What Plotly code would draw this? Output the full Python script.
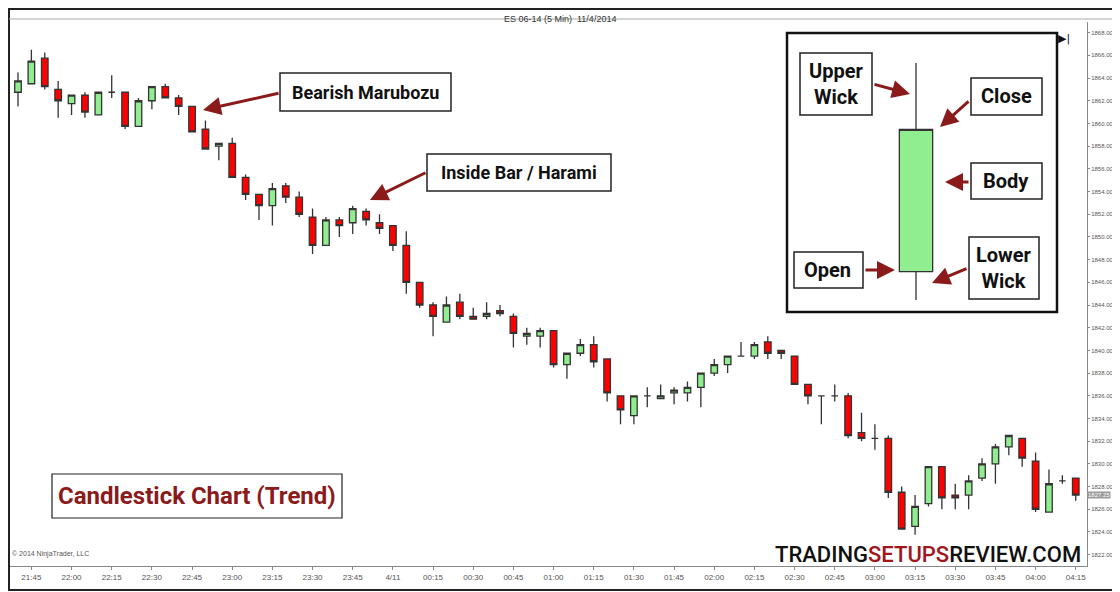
import plotly.graph_objects as go

# ---- data (ES 06-14, 5 min bars) ----
times = ["21:40","21:45","21:50","21:55","22:00","22:05","22:10","22:15","22:20","22:25","22:30","22:35","22:40","22:45","22:50","22:55",
         "23:00","23:05","23:10","23:15","23:20","23:25","23:30","23:35","23:40","23:45","23:50","23:55","00:00","00:05","00:10","00:15",
         "00:20","00:25","00:30","00:35","00:40","00:45","00:50","00:55","01:00","01:05","01:10","01:15","01:20","01:25","01:30","01:35",
         "01:40","01:45","01:50","01:55","02:00","02:05","02:10","02:15","02:20","02:25","02:30","02:35","02:40","02:45","02:50","02:55",
         "03:00","03:05","03:10","03:15","03:20","03:25","03:30","03:35","03:40","03:45","03:50","03:55","04:00","04:05","04:10","04:15"]
opens = [1862.75,1863.5,1865.75,1863,1861.75,1862.5,1860.75,1862.75,1862.75,1859.75,1862,1863.25,1862.25,1861.5,1859.5,1858,
         1858.25,1855.25,1853.75,1852.75,1854.5,1853.5,1851.75,1849.25,1851.5,1851.25,1852.25,1851.25,1851,1849.25,1846,1844,
         1842.5,1844.25,1843,1843,1843.5,1843,1841.25,1841.25,1841.75,1838.75,1839.75,1840.5,1839.25,1836,1834.25,1836,
         1835.75,1836.25,1836.25,1836.75,1838,1838.75,1839.5,1839.5,1840.75,1840,1839.5,1837,1836,1836,1836,1832.75,
         1832.25,1832.25,1827.5,1824.5,1826.5,1829.75,1827.25,1827.25,1828.75,1830,1831.5,1832.25,1830.25,1825.75,1828.5,1828.75]
highs = [1864.5,1866.5,1866.25,1863.75,1862.5,1862.75,1862.75,1864.25,1862.75,1862.25,1863.25,1863.5,1862.5,1861.5,1860.25,1858.25,
         1858.75,1855.5,1853.75,1854.75,1854.75,1854,1852.5,1851.75,1851.75,1852.75,1852.5,1852,1851,1850.5,1846,1844.25,
         1844.75,1845,1843.75,1844.25,1844,1843.25,1842,1842,1841.75,1839.75,1841,1841.25,1839.25,1836,1836,1836.75,
         1837,1836.75,1837.25,1838,1839.25,1839.5,1840.75,1840.75,1841.25,1840,1839.5,1837,1836,1837,1836.25,1834.5,
         1833.5,1832.5,1828,1827.25,1829.75,1829.75,1828.25,1829,1830.5,1831.75,1832.5,1832.25,1831,1829.5,1829,1828.75]
lows = [1861.5,1863.5,1863,1860.5,1860.75,1860.5,1860.75,1862.25,1859.5,1859.75,1861.25,1862.25,1860.75,1859.25,1857.75,1856.75,
        1855.25,1853.25,1851.5,1851,1853,1851.75,1848.5,1849.25,1850,1850.25,1851,1850.25,1848.75,1845,1843.75,1841.25,
        1842.5,1842.75,1842.75,1842.75,1843,1840.25,1840.5,1840.25,1838.5,1837.5,1839.5,1838.5,1835.5,1833.5,1833.5,1835,
        1835.75,1835.25,1835.5,1835,1837.75,1838,1839.5,1839.25,1839.25,1839.25,1837,1835.25,1833.5,1835.5,1832.25,1832,
        1831.25,1827,1824.25,1823.75,1826.25,1826,1826,1826,1828.5,1828.25,1830.75,1829.75,1825.75,1825.75,1828.25,1826.75]
closes = [1863.75,1865.5,1863.25,1862,1862.5,1861,1862.75,1862.75,1859.75,1862,1863.25,1862.25,1861.5,1859.25,1857.75,1858.25,
          1855.25,1853.75,1852.75,1854.25,1853.5,1852,1849.25,1851.5,1851,1852.5,1851.5,1850.75,1849.25,1846,1844,1843,
          1844,1843,1842.75,1843.25,1843.25,1841.5,1841.5,1841.75,1838.75,1839.75,1840.5,1839,1836.25,1834.75,1836,1836,
          1836,1836.5,1836.75,1838,1838.75,1839.5,1839.5,1840.5,1839.75,1839.75,1837,1836,1836,1836,1832.5,1832.25,
          1832.25,1827.5,1824.25,1826.25,1829.75,1827,1827,1828.5,1830,1831.5,1832.5,1830.5,1826,1828.25,1828.5,1827.25]
tick_labels = ["21:45","22:00","22:15","22:30","22:45","23:00","23:15","23:30","23:45","4/11","00:15","00:30","00:45","01:00",
               "01:15","01:30","01:45","02:00","02:15","02:30","02:45","03:00","03:15","03:30","03:45","04:00","04:15"]
y_ticks = list(range(1822, 1869, 2))
last_price = 1827.25

# illustration candle in the legend box
inset_open = [1.2]
inset_high = [10.0]
inset_low = [0.0]
inset_close = [7.2]

# page body has an 8px margin: the figure is sized/placed to compensate
O = 8
W, H = 1120 - O, 592 - O
L, R, T, B = 0, 1087 - O, 22 - O, 566 - O
def px(x): return (x - O - L) / (R - L)
def py(y): return (B - (y - O)) / (B - T)

xs = list(range(len(times)))
tickvals = [xs[times.index(t if t != "4/11" else "00:00")] for t in tick_labels]

fig = go.Figure()
fig.add_trace(go.Candlestick(
    x=xs, open=opens, high=highs, low=lows, close=closes,
    increasing=dict(fillcolor="#90EE90", line=dict(color="#333333", width=1.3)),
    decreasing=dict(fillcolor="#FF0000", line=dict(color="#333333", width=1.3)),
    whiskerwidth=0, showlegend=False, hoverinfo="skip"))
fig.add_trace(go.Candlestick(
    x=[0], open=inset_open, high=inset_high, low=inset_low, close=inset_close,
    xaxis="x2", yaxis="y2",
    increasing=dict(fillcolor="#90EE90", line=dict(color="#333333", width=1.3)),
    decreasing=dict(fillcolor="#FF0000", line=dict(color="#333333", width=1.3)),
    whiskerwidth=0, showlegend=False, hoverinfo="skip"))

narrow = "Roboto, sans-serif"
fig.update_layout(
    width=W, height=H, margin=dict(l=L, r=W - R, t=T, b=H - B, autoexpand=False),
    paper_bgcolor="white", plot_bgcolor="white",
    xaxis=dict(range=[-0.746, 79.84], tickvals=tickvals, ticktext=tick_labels, showgrid=False, zeroline=False,
               automargin=False, rangeslider=dict(visible=False), showline=True, linecolor="#888", linewidth=1,
               ticks="outside", ticklen=3, tickcolor="#888", tickfont=dict(size=8, color="#555", family="Arial")),
    yaxis=dict(range=[1821.0, 1868.94], side="right", tickvals=y_ticks, ticktext=[f"{v:.2f}" for v in y_ticks],
               automargin=False, showgrid=False, zeroline=False, showline=True, linecolor="#888", linewidth=1,
               ticks="outside", ticklen=2, tickcolor="#888", tickfont=dict(size=6, color="#555", family="Arial")),
    xaxis2=dict(domain=[px(848), px(984)], range=[-1, 1], visible=False, anchor="y2", rangeslider=dict(visible=False)),
    yaxis2=dict(domain=[py(300), py(63)], range=[0, 10], visible=False, anchor="x2"),
)

shapes = []
shapes.append(dict(type="rect", xref="paper", yref="paper", x0=px(9), x1=px(1118), y0=py(590), y1=py(9),
                   line=dict(color="#222", width=2), fillcolor="rgba(0,0,0,0)", layer="above"))
shapes.append(dict(type="line", xref="paper", yref="paper", x0=px(9), x1=px(1118), y0=py(19), y1=py(19),
                   line=dict(color="#aaa", width=1)))
shapes.append(dict(type="rect", xref="paper", yref="paper", x0=px(787), x1=px(1057), y0=py(312), y1=py(33),
                   line=dict(color="#111", width=2.5), fillcolor="white", layer="below"))

def box(x0, y0, x1, y1, w=1.5):
    shapes.append(dict(type="rect", xref="paper", yref="paper", x0=px(x0), x1=px(x1), y0=py(y1), y1=py(y0),
                       line=dict(color="#222", width=w), fillcolor="white", layer="above"))

annots = []
def label(text, cx, cy, size=20, color="#111"):
    annots.append(dict(text=text, xref="paper", yref="paper", x=px(cx), y=py(cy), showarrow=False,
                       font=dict(family=narrow, size=size, color=color, weight="bold"), xanchor="center", yanchor="middle"))

def arrow(x0, y0, x1, y1):
    annots.append(dict(text="", xref="paper", yref="paper", axref="pixel", ayref="pixel",
                       x=px(x1), y=py(y1), ax=x0 - x1, ay=y0 - y1, showarrow=True,
                       arrowhead=2, arrowsize=1.2, arrowwidth=3, arrowcolor="#8B1A1A"))

box(280, 73, 451, 111); label("Bearish Marubozu", 365, 92, size=18)
arrow(280, 93, 203, 110)
box(427, 154, 611, 191); label("Inside Bar / Harami", 519, 172, size=18)
arrow(427, 172, 370, 200)

box(800, 53, 872, 115); label("Upper<br>Wick", 836, 84)
arrow(873, 84, 910, 94)
box(971, 78, 1042, 115); label("Close", 1006, 96)
arrow(970, 100, 940, 127)
box(971, 163, 1042, 199); label("Body", 1006, 181)
arrow(970, 182, 945, 182)
box(794, 252, 863, 288); label("Open", 828, 270)
arrow(864, 270, 895, 270)
box(969, 237, 1039, 299); label("Lower<br>Wick", 1004, 268)
arrow(968, 268, 932, 283)

box(52, 474, 342, 518, w=1.2)
label("Candlestick Chart (Trend)", 197, 496, size=24, color="#8B1A1A")

annots.append(dict(xref="paper", yref="paper", x=px(1083), y=py(554), xanchor="right", yanchor="middle", showarrow=False,
                   text="TRADING<span style='color:#A0161B'>SETUPS</span>REVIEW.COM",
                   font=dict(family=narrow, size=22, color="#111", weight=500)))
annots.append(dict(xref="paper", yref="paper", x=px(560), y=py(12), showarrow=False,
                   text="ES 06-14 (5 Min)  11/4/2014", font=dict(family="Arial", size=9, color="#333")))
annots.append(dict(xref="paper", yref="paper", x=px(10), y=py(560), xanchor="left", showarrow=False,
                   text="© 2014 NinjaTrader, LLC", font=dict(family="Arial", size=7, color="#555")))
annots.append(dict(xref="paper", yref="paper", x=px(1072), y=py(30), showarrow=False,
                   text="▶|", font=dict(family="DejaVu Sans", size=11, color="#111")))
annots.append(dict(xref="paper", yref="y", x=1.0, xanchor="left", y=last_price, showarrow=False,
                   text=f"{last_price:.2f}", bgcolor="#9a9a9a", borderpad=0, font=dict(family="Arial", size=6, color="white")))

fig.update_layout(shapes=shapes, annotations=annots)
fig.write_html("out.html")
